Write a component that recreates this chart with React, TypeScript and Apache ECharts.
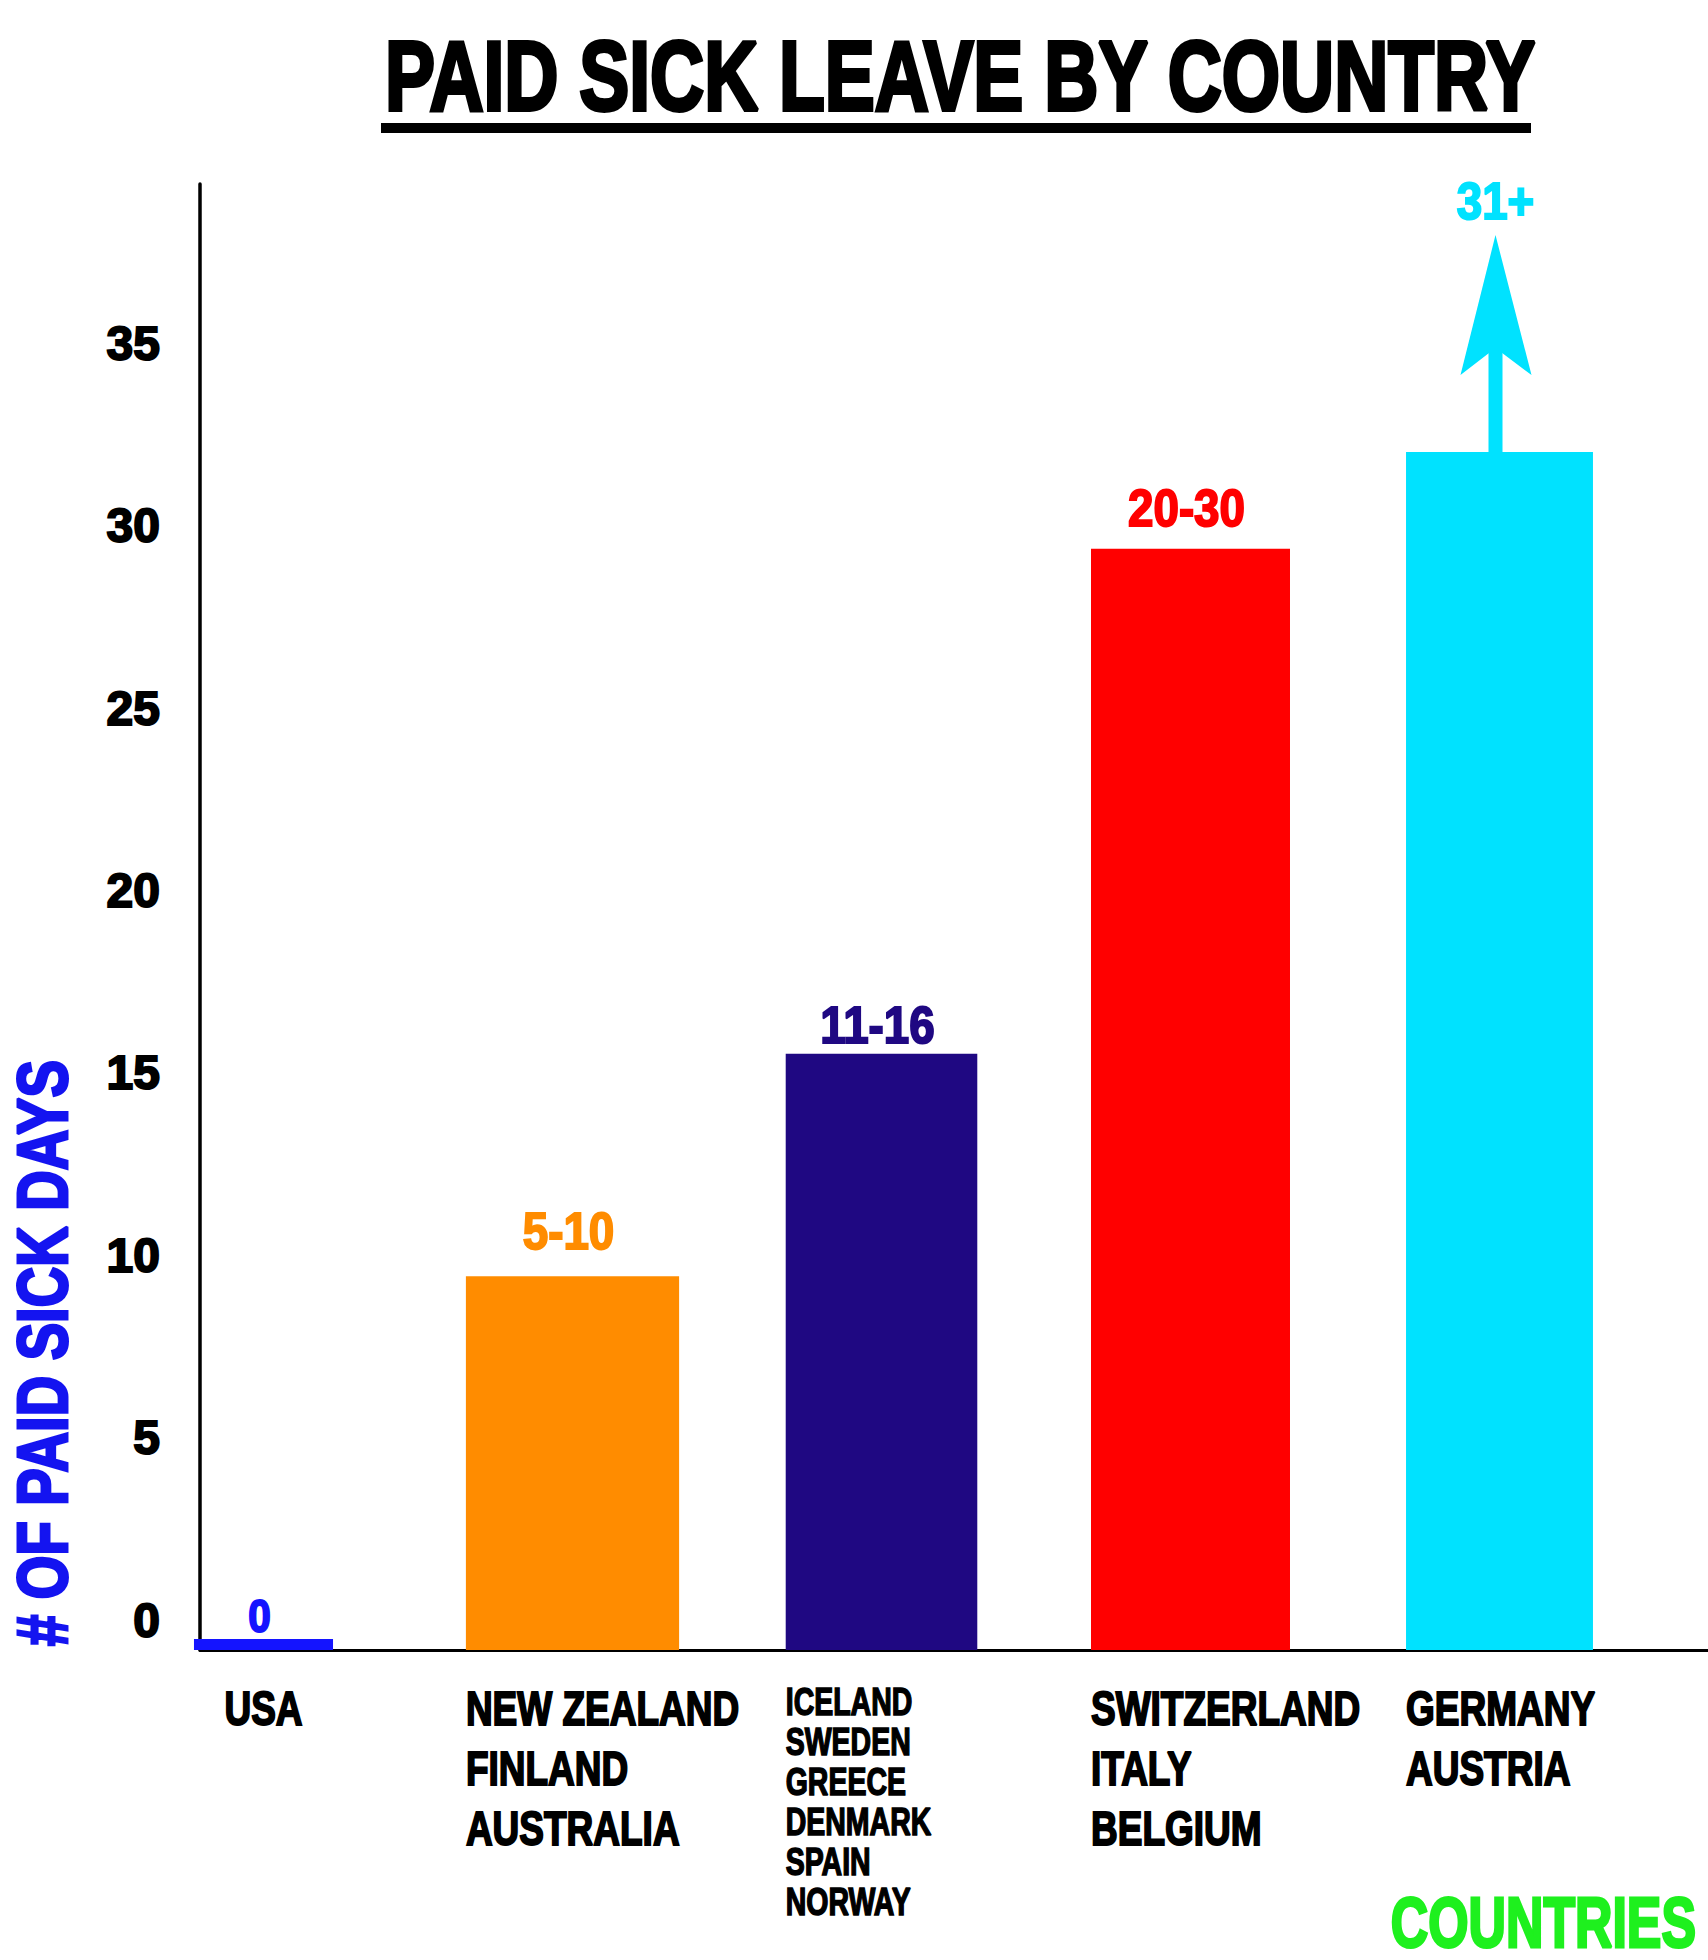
import React, { useEffect, useRef } from 'react';
import * as echarts from 'echarts';

// ---------- data ----------
const countryGroups: string[][] = [
  ['USA'],
  ['NEW ZEALAND', 'FINLAND', 'AUSTRALIA'],
  ['ICELAND', 'SWEDEN', 'GREECE', 'DENMARK', 'SPAIN', 'NORWAY'],
  ['SWITZERLAND', 'ITALY', 'BELGIUM'],
  ['GERMANY', 'AUSTRIA'],
];
const categories: string[] = countryGroups.map((g) => g.join(' / '));
const barValues: number[] = [0, 10.25, 16.35, 30.2, 32.85];
const rangeLabels: string[] = ['0', '5-10', '11-16', '20-30', '31+'];
const openEnded: boolean[] = [false, false, false, false, true];
const yTickValues: number[] = [0, 5, 10, 15, 20, 25, 30, 35];

// ---------- style ----------
const FONT = "'Liberation Sans', Arial, sans-serif";
const COLORS = ['#1414ff', '#ff8c00', '#1f0882', '#ff0000', '#00e2ff'];
const BAR_FRAC = [0.45, 0.69, 0.62, 0.644, 0.605];
const LABEL_ALIGN = ['center', 'left', 'left', 'left', 'left'];
const LABEL_LIFT = [23, 45, 29, 41, 251];
const LABEL_SIZE = [46, 52, 52, 52, 52];
const SMALL_LIST = [false, false, true, false, false];
const MIN_BAR_H = 11;
const Y_MAX = 40.2;
const GRID_TOP = 184;
const GRID_BOTTOM = 310;

export default function App() {
  const ref = useRef<HTMLDivElement>(null);
  useEffect(() => {
    if (!ref.current) return;
    const chart = echarts.init(ref.current, undefined, { renderer: 'svg' });

    const renderItem = (params: any, api: any) => {
      const i = params.dataIndex;
      const v = api.value(1) as number;
      const base = api.coord([i, 0]);
      const top = api.coord([i, v]);
      const band = api.size([1, 0])[0];
      const w = band * BAR_FRAC[i];
      const x0 = base[0] - w / 2;
      const h = Math.max(base[1] - top[1], MIN_BAR_H);
      const yTop = base[1] - h;
      const color = COLORS[i];
      const children: any[] = [
        { type: 'rect', shape: { x: x0, y: yTop, width: w, height: h }, style: { fill: color } },
      ];
      if (openEnded[i]) {
        const cx = base[0] - 4;
        children.push({
          type: 'rect',
          shape: { x: cx - 7, y: yTop - 106, width: 14, height: 106 },
          style: { fill: color },
        });
        children.push({
          type: 'polygon',
          shape: {
            points: [
              [cx, yTop - 217],
              [cx + 36, yTop - 77],
              [cx, yTop - 104],
              [cx - 35, yTop - 77],
            ],
          },
          style: { fill: color },
        });
      }
      children.push({
        type: 'text',
        x: base[0] - 4,
        y: yTop - LABEL_LIFT[i],
        scaleX: 0.88,
        style: {
          text: rangeLabels[i],
          fill: color,
          stroke: color,
          lineWidth: 2,
          font: `bold ${LABEL_SIZE[i]}px ${FONT}`,
          align: 'center',
          verticalAlign: 'middle',
        },
      });
      const small = SMALL_LIST[i];
      children.push({
        type: 'text',
        x: LABEL_ALIGN[i] === 'center' ? base[0] : x0,
        y: base[1] + (small ? 32 : 28),
        scaleX: small ? 0.75 : 0.755,
        style: {
          text: countryGroups[i].join('\n'),
          fill: '#000',
          stroke: '#000',
          lineWidth: small ? 1.5 : 2,
          font: `bold ${small ? 38 : 49}px ${FONT}`,
          lineHeight: small ? 40 : 60,
          align: LABEL_ALIGN[i],
          verticalAlign: 'top',
        },
      });
      return { type: 'group', children };
    };

    chart.setOption({
      animation: false,
      backgroundColor: '#ffffff',
      graphic: [
        {
          type: 'text',
          x: 385,
          y: 76,
          scaleX: 0.757,
          style: {
            text: 'PAID SICK LEAVE BY COUNTRY',
            fill: '#000',
            stroke: '#000',
            lineWidth: 4,
            font: `bold 99px ${FONT}`,
            align: 'left',
            verticalAlign: 'middle',
          },
        },
        { type: 'rect', shape: { x: 381, y: 123, width: 1150, height: 10 }, style: { fill: '#000' } },
        {
          type: 'text',
          x: 43,
          y: 1353,
          rotation: Math.PI / 2,
          scaleX: 0.79,
          style: {
            text: '# OF PAID SICK DAYS',
            fill: '#1414f0',
            stroke: '#1414f0',
            lineWidth: 3,
            font: `bold 71px ${FONT}`,
            align: 'center',
            verticalAlign: 'middle',
          },
        },
        {
          type: 'text',
          x: 1696,
          y: 1922,
          scaleX: 0.73,
          style: {
            text: 'COUNTRIES',
            fill: '#1ef01e',
            stroke: '#1ef01e',
            lineWidth: 3,
            font: `bold 71px ${FONT}`,
            align: 'right',
            verticalAlign: 'middle',
          },
        },
      ],
      grid: [
        { left: 200, right: 0, top: GRID_TOP, bottom: GRID_BOTTOM },
        { left: 109, right: 54, top: GRID_TOP, bottom: GRID_BOTTOM },
      ],
      xAxis: [
        {
          gridIndex: 0,
          type: 'value',
          min: 0,
          max: 1,
          axisLine: { show: true, lineStyle: { color: '#000', width: 3 } },
          axisTick: { show: false },
          axisLabel: { show: false },
          splitLine: { show: false },
        },
        {
          gridIndex: 1,
          type: 'category',
          data: categories,
          show: false,
        },
      ],
      yAxis: [
        {
          gridIndex: 0,
          type: 'value',
          min: 0,
          max: Y_MAX,
          interval: 5,
          axisLine: { show: true, lineStyle: { color: '#000', width: 3.5 } },
          axisTick: { show: false },
          splitLine: { show: false },
          axisLabel: {
            margin: 40,
            color: '#000',
            fontFamily: FONT,
            fontWeight: 'bold',
            fontSize: 48,
            lineHeight: 60,
            verticalAlign: 'bottom',
            textBorderColor: '#000',
            textBorderWidth: 2,
            formatter: (val: number) => (yTickValues.includes(val) ? String(val) : ''),
          },
        },
        {
          gridIndex: 1,
          type: 'value',
          min: 0,
          max: Y_MAX,
          show: false,
        },
      ],
      series: [
        {
          type: 'custom',
          xAxisIndex: 1,
          yAxisIndex: 1,
          clip: false,
          renderItem,
          data: barValues.map((v, i) => [i, v]),
          z: 3,
        },
      ],
    });
    return () => chart.dispose();
  }, []);
  return (
    <div
      ref={ref}
      style={{ position: 'absolute', left: 0, top: 0, width: 1708, height: 1960, background: '#fff' }}
    />
  );
}
